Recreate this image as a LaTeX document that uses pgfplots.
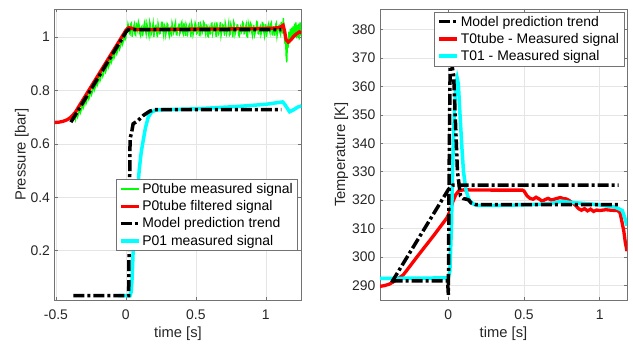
\documentclass[border=0pt]{standalone}
\usepackage{fontspec}
\setmainfont{Liberation Sans}
\usepackage{pgfplots}
\pgfplotsset{compat=1.18}
\definecolor{axgray}{gray}{0.45}
\definecolor{txtgray}{gray}{0.15}
\definecolor{gridgray}{gray}{0.9}
\definecolor{mgreen}{rgb}{0,1,0}
\definecolor{mred}{rgb}{1,0,0}
\definecolor{mcyan}{rgb}{0,1,1}
\pgfplotsset{
  legend image code/.code={\draw[#1] (0bp,0bp) -- (18bp,0bp);},
  mystyle/.style={
    scale only axis, width=247bp, height=291bp,
    axis line style={draw=axgray, line width=0.6bp},
    tick style={draw=axgray, line width=0.6bp},
    major tick length=3bp,
    tick align=inside,
    grid=major,
    grid style={draw=gridgray, line width=0.6bp},
    tick label style={font=\fontsize{14}{16}\selectfont, text=txtgray},
    label style={font=\fontsize{14.8}{17}\selectfont, text=txtgray},
    xticklabel style={yshift=-6bp},
    yticklabel style={xshift=-1bp},
    legend style={font=\fontsize{14}{16}\selectfont, draw=axgray, fill=white, line width=0.6bp, row sep=1.6bp},
    legend cell align=left,
    xlabel={time [s]},
    xlabel style={at={(axis description cs:0.5,-0.092)}, anchor=north, inner sep=0pt},
  },
  dashdot/.style={dash pattern=on 11bp off 3bp on 3bp off 3bp},
}
\begin{document}
\begin{tikzpicture}
\useasboundingbox (-54.5bp,-44bp) rectangle (578.5bp,300bp);
% ---------------- left: pressure ----------------
\begin{axis}[mystyle,
  at={(0bp,0bp)}, anchor=south west,
  xmin=-0.51, xmax=1.255, ymin=0.015, ymax=1.105,
  xtick={-0.5,0,0.5,1}, xticklabels={-0.5,0,0.5,1},
  ytick={0.2,0.4,0.6,0.8,1}, yticklabels={0.2,0.4,0.6,0.8,1},
  ylabel={Pressure [bar]},
  ylabel style={at={(axis description cs:-0.104,0.5)}, anchor=south, inner sep=0pt},
  legend style={at={(0.986,0.415)}, anchor=north east},
]
\addplot[mgreen, line width=1.3bp, forget plot] table {
-0.37 0.692
-0.365 0.699
-0.36 0.690
-0.355 0.708
-0.35 0.712
-0.345 0.700
-0.34 0.708
-0.335 0.727
-0.33 0.730
-0.325 0.716
-0.32 0.724
-0.315 0.745
-0.31 0.747
-0.305 0.733
-0.30 0.741
-0.295 0.761
-0.29 0.764
-0.285 0.750
-0.28 0.758
-0.275 0.778
-0.27 0.781
-0.265 0.767
-0.26 0.775
-0.255 0.795
-0.25 0.798
-0.245 0.784
-0.24 0.792
-0.235 0.812
-0.23 0.815
-0.225 0.801
-0.22 0.809
-0.215 0.829
-0.21 0.832
-0.205 0.818
-0.20 0.826
-0.195 0.846
-0.19 0.849
-0.185 0.835
-0.18 0.843
-0.175 0.863
-0.17 0.866
-0.165 0.852
-0.16 0.860
-0.155 0.880
-0.15 0.883
-0.145 0.869
-0.14 0.877
-0.135 0.897
-0.13 0.900
-0.125 0.886
-0.12 0.894
-0.115 0.914
-0.11 0.917
-0.105 0.903
-0.10 0.911
-0.095 0.931
-0.09 0.934
-0.085 0.920
-0.08 0.928
-0.075 0.948
-0.07 0.951
-0.065 0.937
-0.06 0.945
-0.055 0.965
-0.05 0.968
-0.045 0.954
-0.04 0.962
-0.035 0.982
-0.03 0.985
-0.025 0.971
-0.02 0.979
-0.015 0.999
-0.01 1.002
-0.005 0.990
0.00 0.996
0.005 1.030
0.01 1.025
0.015 1.050
0.02 1.040
0.025 1.014
0.03 1.010
0.035 1.049
0.04 1.053
0.045 1.001
0.05 1.020
0.055 1.037
0.06 1.048
0.065 1.009
0.07 1.006
0.075 1.054
0.08 1.033
0.085 1.022
0.09 1.056
0.095 1.045
0.10 1.013
0.105 1.005
0.11 1.038
0.115 1.041
0.12 1.003
0.125 1.026
0.13 1.046
0.135 1.057
0.14 1.023
0.145 1.010
0.15 1.050
0.155 1.035
0.16 1.016
0.165 1.003
0.17 1.058
0.175 1.048
0.18 1.008
0.185 1.017
0.19 1.036
0.195 1.052
0.20 1.000
0.205 1.020
0.21 1.043
0.215 1.044
0.22 1.018
0.225 0.999
0.23 1.052
0.235 1.039
0.24 1.012
0.245 1.013
0.25 1.031
0.255 1.055
0.26 1.055
0.265 1.024
0.27 1.006
0.275 1.046
0.28 1.040
0.285 1.007
0.29 1.022
0.295 1.051
0.30 1.047
0.305 1.016
0.31 1.004
0.315 1.036
0.32 1.037
0.325 1.002
0.33 1.054
0.335 1.043
0.34 1.014
0.345 1.021
0.35 1.045
0.355 1.056
0.36 1.009
0.365 1.008
0.37 1.034
0.375 1.031
0.38 1.051
0.385 1.011
0.39 1.017
0.395 1.050
0.40 1.057
0.405 1.019
0.41 1.011
0.415 1.053
0.42 1.032
0.425 1.004
0.43 1.049
0.435 1.040
0.44 1.002
0.445 1.025
0.45 1.041
0.455 1.047
0.46 1.019
0.465 1.000
0.47 1.053
0.475 1.042
0.48 1.007
0.485 1.018
0.49 1.035
0.495 1.054
0.50 1.046
0.505 1.012
0.51 1.015
0.515 1.033
0.52 1.056
0.525 1.006
0.53 1.005
0.535 1.048
0.54 1.039
0.545 1.015
0.55 1.024
0.555 1.057
0.56 1.052
0.565 1.022
0.57 1.010
0.575 1.045
0.58 1.044
0.585 1.003
0.59 1.001
0.595 1.038
0.60 1.030
0.605 1.009
0.61 1.050
0.615 1.052
0.62 1.013
0.625 1.027
0.63 1.042
0.635 1.049
0.64 1.020
0.645 1.001
0.65 1.055
0.655 1.035
0.66 1.008
0.665 1.014
0.67 1.038
0.675 1.056
0.68 1.004
0.685 1.019
0.69 1.047
0.695 1.044
0.70 1.025
0.705 1.005
0.71 1.054
0.715 1.041
0.72 1.012
0.725 1.023
0.73 1.036
0.735 1.053
0.74 1.006
0.745 1.010
0.75 1.049
0.755 1.039
0.76 1.017
0.765 0.999
0.77 1.058
0.775 1.050
0.78 1.009
0.785 1.020
0.79 1.033
0.795 1.046
0.80 1.045
0.805 1.007
0.81 1.003
0.815 1.034
0.82 1.041
0.825 1.016
0.83 1.021
0.835 1.055
0.84 1.051
0.845 1.012
0.85 1.014
0.855 1.037
0.86 1.048
0.865 1.002
0.87 1.000
0.875 1.051
0.88 1.037
0.885 1.024
0.89 1.053
0.895 1.047
0.90 1.016
0.905 1.004
0.91 1.043
0.915 1.042
0.92 1.007
0.925 1.017
0.93 1.034
0.935 1.058
0.94 1.056
0.945 1.013
0.95 1.011
0.955 1.032
0.96 1.040
0.965 1.008
0.97 1.019
0.975 1.054
0.98 1.052
0.985 1.021
0.99 1.005
0.995 1.045
1.00 1.046
1.005 1.000
1.01 1.022
1.015 1.040
1.02 1.050
1.025 1.026
1.03 1.015
1.035 1.049
1.04 1.055
1.045 1.011
1.05 1.008
1.055 1.036
1.06 1.032
1.065 1.005
1.07 1.047
1.075 1.053
1.08 1.002
1.085 1.018
1.09 1.039
1.095 1.043
1.10 1.018
1.105 1.009
1.11 1.057
1.115 1.030
1.12 1.013
1.125 1.072
1.13 1.035
1.135 0.975
1.14 1.010
1.145 0.930
1.15 0.905
1.155 0.990
1.16 0.960
1.165 1.020
1.17 0.975
1.175 1.030
1.18 0.985
1.185 1.035
1.19 0.990
1.195 1.040
1.20 0.995
1.205 1.050
1.21 1.000
1.215 1.055
1.22 0.995
1.225 1.045
1.23 1.000
1.235 1.050
1.24 0.990
1.245 1.055
1.25 1.005
};
\addplot[mred, line width=3.3bp, forget plot] table {
-0.51 0.680
-0.48 0.681
-0.45 0.684
-0.42 0.690
-0.40 0.697
-0.38 0.707
-0.36 0.719
-0.35 0.728
-0.33 0.745
0.00 1.025
0.02 1.035
0.04 1.033
0.07 1.028
0.30 1.029
0.60 1.030
0.90 1.031
1.05 1.033
1.10 1.036
1.124 1.044
1.135 1.020
1.145 0.990
1.16 0.981
1.18 0.990
1.20 1.003
1.22 1.012
1.24 1.019
1.255 1.016
};
\addplot[mcyan, line width=3.5bp, forget plot] table {
-0.055 0.031
0.030 0.031
0.038 0.045
0.045 0.100
0.052 0.200
0.065 0.300
0.081 0.400
0.095 0.500
0.110 0.570
0.124 0.613
0.140 0.660
0.160 0.700
0.185 0.720
0.220 0.727
0.500 0.731
0.800 0.740
1.000 0.748
1.120 0.757
1.135 0.748
1.170 0.720
1.200 0.728
1.230 0.738
1.255 0.742
};
\addplot[black, line width=3.5bp, dashdot, forget plot] table {
-0.393 0.681
0.005 1.022
0.020 1.028
1.112 1.028
};
\addplot[black, line width=3.5bp, dashdot, forget plot] table {
-0.376 0.031
0.020 0.031
0.030 0.620
0.040 0.640
0.052 0.675
0.088 0.6875
0.124 0.706
0.171 0.7225
0.207 0.728
1.112 0.728
};
\addlegendimage{mgreen, line width=2bp}
\addlegendentry{P0tube measured signal}
\addlegendimage{mred, line width=3.3bp}
\addlegendentry{P0tube filtered signal}
\addlegendimage{black, line width=3.5bp, dashdot}
\addlegendentry{Model prediction trend}
\addlegendimage{mcyan, line width=3.5bp}
\addlegendentry{P01 measured signal}
\end{axis}
% ---------------- right: temperature ----------------
\begin{axis}[mystyle,
  at={(325.5bp,0bp)}, anchor=south west,
  xmin=-0.452, xmax=1.181, ymin=284.8, ymax=387.3,
  xtick={0,0.5,1}, xticklabels={0,0.5,1},
  ytick={290,300,310,320,330,340,350,360,370,380},
  yticklabels={290,300,310,320,330,340,350,360,370,380},
  ylabel={Temperature [K]},
  ylabel style={at={(axis description cs:-0.128,0.5)}, anchor=south, inner sep=0pt},
  legend style={at={(0.989,0.991)}, anchor=north east},
]
\addplot[mred, line width=3.3bp, forget plot] table {
-0.452 289.6
-0.42 289.9
-0.39 290.4
-0.37 291.0
-0.34 292.0
-0.31 293.2
-0.30 293.5
-0.20 300.5
-0.10 307.3
-0.01 313.7
0.01 316.0
0.03 319.5
0.05 322.0
0.07 323.3
0.10 323.6
0.30 323.5
0.49 323.5
0.50 323.2
0.52 321.5
0.54 320.6
0.56 320.3
0.58 321.0
0.60 320.4
0.62 319.6
0.64 320.2
0.66 320.6
0.68 320.0
0.70 320.3
0.72 320.6
0.74 320.9
0.76 320.5
0.78 320.4
0.80 319.8
0.82 319.0
0.84 318.2
0.86 317.0
0.88 316.4
0.90 317.0
0.92 316.2
0.94 316.8
0.96 316.0
0.98 316.5
1.00 316.3
1.04 316.6
1.08 316.4
1.12 316.3
1.135 315.5
1.145 313.0
1.16 309.0
1.17 305.0
1.181 302.0
};
\addplot[mcyan, line width=3.5bp, forget plot] table {
-0.452 292.4
-0.20 292.5
0.000 292.6
0.010 295.0
0.020 310.0
0.030 335.0
0.040 352.0
0.050 361.0
0.058 363.0
0.066 361.0
0.077 350.0
0.090 338.0
0.100 330.0
0.115 324.0
0.130 321.0
0.144 319.5
0.170 318.5
0.200 318.1
0.400 318.2
0.600 318.5
0.700 319.0
0.750 319.6
0.800 319.2
0.900 318.8
1.000 318.3
1.100 317.5
1.125 317.0
1.150 316.3
1.165 314.0
1.181 311.0
};
\addplot[black, line width=3.5bp, dashdot, forget plot] table {
-0.375 291.0
0.000 323.7
0.030 325.3
1.126 325.3
};
\addplot[black, line width=3.5bp, dashdot, forget plot] table {
-0.375 291.5
-0.005 291.5
0.000 286.6
0.005 330.0
0.012 368.5
0.025 367.0
0.035 364.0
0.045 350.0
0.060 330.0
0.080 321.5
0.100 320.5
0.120 320.3
0.135 320.0
0.150 319.0
0.180 318.4
1.126 318.4
};
\addlegendimage{black, line width=3.5bp, dashdot}
\addlegendentry{Model prediction trend}
\addlegendimage{mred, line width=3.3bp}
\addlegendentry{T0tube - Measured signal}
\addlegendimage{mcyan, line width=3.5bp}
\addlegendentry{T01 - Measured signal}
\end{axis}
\end{tikzpicture}
\end{document}
